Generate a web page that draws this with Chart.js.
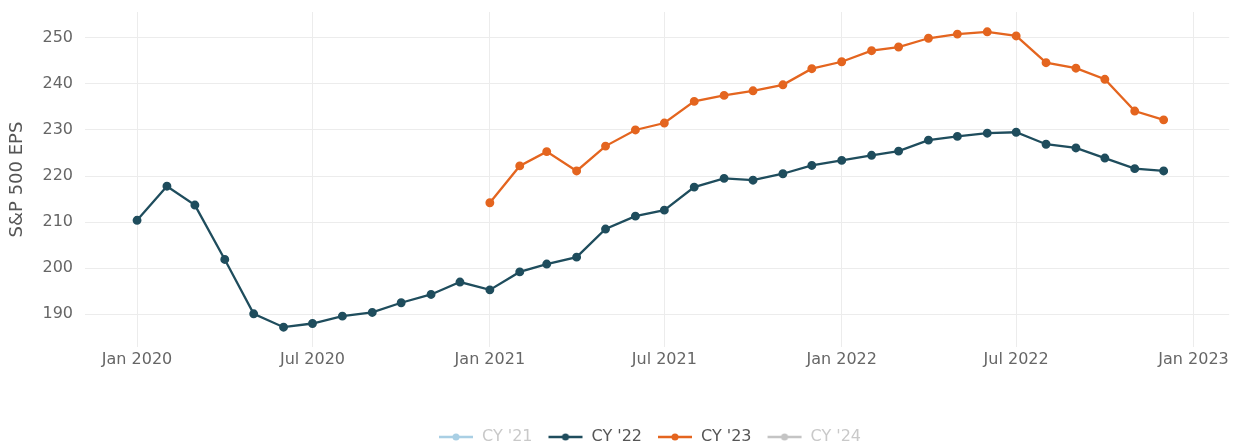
<!DOCTYPE html>
<html>
<head>
<meta charset="utf-8">
<script src="https://cdn.jsdelivr.net/npm/chart.js@4.4.1/dist/chart.umd.min.js"></script>
<style>
  html, body { margin: 0; padding: 0; background: #fff; }
  #wrap { width: 1236px; height: 443px; }
</style>
</head>
<body>
<div id="wrap"><canvas id="chart" width="1236" height="443"></canvas></div>
<script>
/* ── Data ────────────────────────────────────────────────────── */

const MONTHS = [
    '2020-01-01', '2020-02-01', '2020-03-01', '2020-04-01', '2020-05-01', '2020-06-01',
    '2020-07-01', '2020-08-01', '2020-09-01', '2020-10-01', '2020-11-01', '2020-12-01',
    '2021-01-01', '2021-02-01', '2021-03-01', '2021-04-01', '2021-05-01', '2021-06-01',
    '2021-07-01', '2021-08-01', '2021-09-01', '2021-10-01', '2021-11-01', '2021-12-01',
    '2022-01-01', '2022-02-01', '2022-03-01', '2022-04-01', '2022-05-01', '2022-06-01',
    '2022-07-01', '2022-08-01', '2022-09-01', '2022-10-01', '2022-11-01', '2022-12-01',
];

// CY '22 estimates, one per month from Jan 2020
const CY22_EPS = [
    210.4, 217.8, 213.7, 201.9, 190.1, 187.2, 188.0, 189.6, 190.4, 192.5, 194.3, 197.0,
    195.3, 199.2, 200.9, 202.4, 208.5, 211.3, 212.6, 217.6, 219.5, 219.1, 220.5, 222.3,
    223.4, 224.5, 225.4, 227.8, 228.6, 229.3, 229.5, 226.9, 226.1, 223.9, 221.6, 221.1,
];

// CY '23 estimates start in Jan 2021
const CY23_MONTHS = MONTHS.slice(12);
const CY23_EPS = [
    214.2, 222.2, 225.3, 221.1, 226.5, 230.0, 231.5, 236.2, 237.5, 238.5, 239.8, 243.3,
    244.8, 247.2, 248.0, 249.9, 250.8, 251.3, 250.4, 244.6, 243.4, 241.0, 234.1, 232.2,
];

// CY '21 / CY '24 are legend-only in the reference
const CY21_EPS = [];
const CY24_EPS = [];

const Y_TICKS = [190, 200, 210, 220, 230, 240, 250];
const Y_RANGE = [182.9, 255.6];

const X_TICK_DATES = ['2020-01-01', '2020-07-01', '2021-01-01', '2021-07-01', '2022-01-01', '2022-07-01', '2023-01-01'];
const X_TICK_LABELS = ['Jan 2020', 'Jul 2020', 'Jan 2021', 'Jul 2021', 'Jan 2022', 'Jul 2022', 'Jan 2023'];
const X_RANGE = ['2019-11-08', '2023-02-07'];

/* ── Styling ─────────────────────────────────────────────────── */

const FONT = '"DejaVu Sans", Verdana, sans-serif';
const C_DARK = '#1f4d5d';
const C_ORANGE = '#e4651f';
const C_LIGHTBLUE = '#a9cfe4';
const C_GREY = '#c4c4c4';
const GRID = '#ececec';

function legendMarker(color, lw) {
    const c = document.createElement('canvas');
    c.width = 36; c.height = 12;
    const g = c.getContext('2d');
    g.strokeStyle = color; g.lineWidth = lw;
    g.beginPath(); g.moveTo(1, 6); g.lineTo(35, 6); g.stroke();
    g.fillStyle = color;
    g.beginPath(); g.arc(18, 6, 3.5, 0, Math.PI * 2); g.fill();
    return c;
}

const toXY = (dates, vals) => vals.map((v, i) => ({ x: Date.parse(dates[i]), y: v }));

function series(label, dates, vals, color, legendText) {
    return {
        label,
        data: toXY(dates, vals),
        borderColor: color,
        backgroundColor: color,
        pointBackgroundColor: color,
        pointBorderColor: color,
        borderWidth: 2.3,
        pointRadius: 3.3,
        pointHoverRadius: 4.5,
        tension: 0,
        legendText,
        legendMarker: legendMarker(color, 2.5),
    };
}

// nudges the bottom legend to sit under the plot like the reference
const legendShift = {
    id: 'legendShift',
    afterLayout(chart) {
        const l = chart.legend;
        l.left += 33; l.right += 33;
        l.top += 12; l.bottom += 12;
    }
};

new Chart(document.getElementById('chart'), {
    type: 'line',
    data: {
        datasets: [
            series("CY '21", [], CY21_EPS, C_LIGHTBLUE, '#c9c9c9'),
            series("CY '22", MONTHS, CY22_EPS, C_DARK, '#555'),
            series("CY '23", CY23_MONTHS, CY23_EPS, C_ORANGE, '#555'),
            series("CY '24", [], CY24_EPS, C_GREY, '#c9c9c9'),
        ]
    },
    options: {
        responsive: false,
        animation: false,
        layout: { padding: { left: 0, right: 3, top: 12, bottom: 0 } },
        scales: {
            x: {
                type: 'linear',
                min: Date.parse(X_RANGE[0]),
                max: Date.parse(X_RANGE[1]),
                afterBuildTicks: (s) => { s.ticks = X_TICK_DATES.map(d => ({ value: Date.parse(d) })); },
                afterFit: (s) => { s.height = 55; },
                ticks: {
                    padding: 3,
                    maxRotation: 0,
                    autoSkip: false,
                    color: '#666',
                    font: { family: FONT, size: 16 },
                    callback: (v) => X_TICK_LABELS[X_TICK_DATES.findIndex(d => Date.parse(d) === v)] ?? '',
                },
                grid: { color: GRID, drawTicks: false },
                border: { display: false },
            },
            y: {
                min: Y_RANGE[0],
                max: Y_RANGE[1],
                afterBuildTicks: (s) => { s.ticks = Y_TICKS.map(v => ({ value: v })); },
                afterFit: (s) => { s.width = 85; s.paddingTop = 0; s.paddingBottom = 0; },
                ticks: {
                    padding: 12,
                    color: '#666',
                    font: { family: FONT, size: 16 },
                },
                grid: { color: GRID, drawTicks: false },
                border: { display: false },
                title: {
                    display: true,
                    text: 'S&P 500 EPS',
                    color: '#555',
                    font: { family: FONT, size: 18 },
                    padding: { top: 7, bottom: 0 },
                },
            },
        },
        plugins: {
            tooltip: { enabled: true },
            legend: {
                position: 'bottom',
                labels: {
                    usePointStyle: true,
                    pointStyleWidth: 36,
                    padding: 15,
                    font: { family: FONT, size: 16 },
                    generateLabels: (chart) => chart.data.datasets.map((ds, i) => ({
                        text: ds.label,
                        fontColor: ds.legendText,
                        pointStyle: ds.legendMarker,
                        fillStyle: ds.borderColor,
                        strokeStyle: ds.borderColor,
                        lineWidth: 0,
                        hidden: !chart.isDatasetVisible(i),
                        datasetIndex: i,
                    })),
                },
            },
        },
    },
    plugins: [legendShift],
});
</script>
</body>
</html>
